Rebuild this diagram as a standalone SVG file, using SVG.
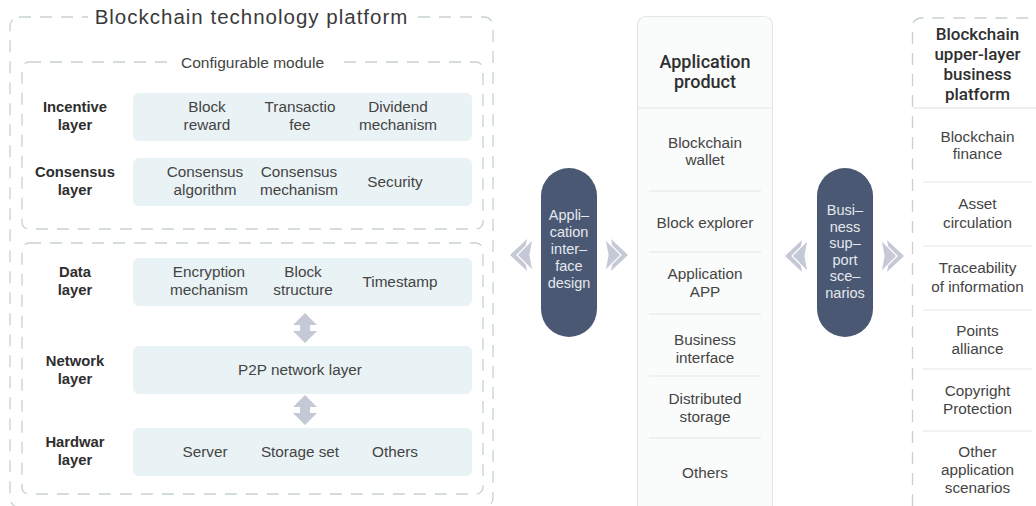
<svg xmlns="http://www.w3.org/2000/svg" width="1036" height="506" viewBox="0 0 1036 506">
<defs>
<style>
text{font-family:"Liberation Sans",Arial,sans-serif;fill:#3a3a3a;text-anchor:middle}
.t{font-size:15.3px;fill:#444}
.lb{font-size:14.8px;font-weight:bold;fill:#2e2e2e}
.hd{font-family:Roboto,"Liberation Sans",Arial,sans-serif;font-size:18px;font-weight:500;fill:#2f2f2f}
.hd2{font-family:Roboto,"Liberation Sans",Arial,sans-serif;font-size:17px;font-weight:500;fill:#2f2f2f}
.pt{font-size:14.5px;fill:#e4e8ee}
.dash{fill:none;stroke:#c6d1d1;stroke-width:1.3;stroke-dasharray:12 9}
.bar{fill:#e9f2f4}
.pill{fill:#4a5873}
.arr{fill:#c4c9d5}
.arr2{fill:#c4c9d5;stroke:#ffffff;stroke-width:1.2;stroke-linejoin:miter}
.sep{stroke:#e1e5e9;stroke-width:1.2}
</style>
</defs>
<rect width="1036" height="506" fill="#ffffff"/>

<g id="tech-platform">
<rect class="dash" x="10" y="17" width="483" height="490" rx="9"/>
<rect x="88" y="6" width="326" height="22" fill="#ffffff"/>
<text x="251.5" y="24" style="font-size:20.5px;letter-spacing:1px;fill:#3a3a3a">Blockchain technology platform</text>
</g>

<g id="configurable-module">
<rect class="dash" x="22" y="62" width="461" height="167" rx="7"/>
<rect x="170" y="52" width="166" height="20" fill="#ffffff"/>
<text x="252.5" y="67.5" style="font-size:15.5px;fill:#444">Configurable module</text>
</g>

<g id="base-module">
<rect class="dash" x="22" y="243" width="461" height="251" rx="7"/>
</g>

<g id="incentive-layer">
<text class="lb" x="75" y="112">Incentive</text>
<text class="lb" x="75" y="130">layer</text>
<rect class="bar" x="133" y="93" width="339" height="48" rx="6"/>
<text class="t" x="207" y="112">Block</text><text class="t" x="207" y="130">reward</text>
<text class="t" x="300" y="112">Transactio</text><text class="t" x="300" y="130">fee</text>
<text class="t" x="398" y="112">Dividend</text><text class="t" x="398" y="130">mechanism</text>
</g>

<g id="consensus-layer">
<text class="lb" x="75" y="177">Consensus</text>
<text class="lb" x="75" y="195">layer</text>
<rect class="bar" x="133" y="158" width="339" height="48" rx="6"/>
<text class="t" x="205" y="177">Consensus</text><text class="t" x="205" y="195">algorithm</text>
<text class="t" x="299" y="177">Consensus</text><text class="t" x="299" y="195">mechanism</text>
<text class="t" x="395" y="187">Security</text>
</g>

<g id="data-layer">
<text class="lb" x="75" y="277">Data</text>
<text class="lb" x="75" y="295">layer</text>
<rect class="bar" x="133" y="258" width="339" height="48" rx="6"/>
<text class="t" x="209" y="277">Encryption</text><text class="t" x="209" y="295">mechanism</text>
<text class="t" x="303" y="277">Block</text><text class="t" x="303" y="295">structure</text>
<text class="t" x="400" y="287">Timestamp</text>
</g>

<g id="network-layer">
<text class="lb" x="75" y="366">Network</text>
<text class="lb" x="75" y="384">layer</text>
<rect class="bar" x="133" y="346" width="339" height="48" rx="6"/>
<text class="t" x="300" y="375">P2P network layer</text>
</g>

<g id="hardware-layer">
<text class="lb" x="75" y="447">Hardwar</text>
<text class="lb" x="75" y="465">layer</text>
<rect class="bar" x="133" y="428" width="339" height="48" rx="6"/>
<text class="t" x="205" y="457">Server</text>
<text class="t" x="300" y="457">Storage set</text>
<text class="t" x="395" y="457">Others</text>
</g>

<g id="app-interface">
<rect class="pill" x="541" y="168" width="56" height="169" rx="28"/>
<text class="pt" x="569" y="219.5">Appli–</text>
<text class="pt" x="569" y="236.5">cation</text>
<text class="pt" x="569" y="253.5">inter–</text>
<text class="pt" x="569" y="270.5">face</text>
<text class="pt" x="569" y="287.5">design</text>
</g>

<g id="application-product">
<rect x="637.5" y="16.5" width="135" height="500" rx="8" fill="#fafbfb" stroke="#e3e7eb" stroke-width="1.2"/>
<line class="sep" x1="638" y1="108" x2="772" y2="108"/>
<text class="hd" x="705" y="68">Application</text>
<text class="hd" x="705" y="88">product</text>
<text class="t" x="705" y="148">Blockchain</text><text class="t" x="705" y="165">wallet</text>
<line class="sep" x1="649" y1="191" x2="761" y2="191"/>
<text class="t" x="705" y="228">Block explorer</text>
<line class="sep" x1="649" y1="252" x2="761" y2="252"/>
<text class="t" x="705" y="279">Application</text><text class="t" x="705" y="297">APP</text>
<line class="sep" x1="649" y1="314" x2="761" y2="314"/>
<text class="t" x="705" y="345">Business</text><text class="t" x="705" y="363">interface</text>
<line class="sep" x1="649" y1="376" x2="761" y2="376"/>
<text class="t" x="705" y="404">Distributed</text><text class="t" x="705" y="422">storage</text>
<line class="sep" x1="649" y1="438" x2="761" y2="438"/>
<text class="t" x="705" y="478">Others</text>
</g>

<g id="business-support">
<rect class="pill" x="817" y="168" width="56" height="169" rx="28"/>
<text class="pt" x="845" y="215">Busi–</text>
<text class="pt" x="845" y="231.5">ness</text>
<text class="pt" x="845" y="248">sup–</text>
<text class="pt" x="845" y="264.5">port</text>
<text class="pt" x="845" y="281">sce–</text>
<text class="pt" x="845" y="297.5">narios</text>
</g>

<g id="business-platform">
<path class="dash" d="M912.5 506 V28 Q912.5 18 922.5 18 H1040"/>
<line x1="913" y1="108" x2="1036" y2="108" stroke="#d9dde1" stroke-width="1.2"/>
<text class="hd2" x="977.5" y="40">Blockchain</text>
<text class="hd2" x="977.5" y="60">upper-layer</text>
<text class="hd2" x="977.5" y="80">business</text>
<text class="hd2" x="977.5" y="100">platform</text>
<text class="t" x="977.5" y="142">Blockchain</text><text class="t" x="977.5" y="159">finance</text>
<line class="sep" x1="923" y1="182" x2="1032" y2="182"/>
<text class="t" x="977.5" y="209">Asset</text><text class="t" x="977.5" y="228">circulation</text>
<line class="sep" x1="923" y1="246" x2="1032" y2="246"/>
<text class="t" x="977.5" y="273">Traceability</text><text class="t" x="977.5" y="292">of information</text>
<line class="sep" x1="923" y1="310" x2="1032" y2="310"/>
<text class="t" x="977.5" y="336">Points</text><text class="t" x="977.5" y="354">alliance</text>
<line class="sep" x1="923" y1="369" x2="1032" y2="369"/>
<text class="t" x="977.5" y="396">Copyright</text><text class="t" x="977.5" y="414">Protection</text>
<line class="sep" x1="923" y1="431" x2="1032" y2="431"/>
<text class="t" x="977.5" y="457">Other</text><text class="t" x="977.5" y="475">application</text><text class="t" x="977.5" y="493">scenarios</text>
</g>

<g id="connectors">
<polygon class="arr" points="305,313 317,325 310,325 310,331 317,331 305,343 293,331 300,331 300,325 293,325"/>
<polygon class="arr" points="305,395 317,407 310,407 310,413 317,413 305,425 293,413 300,413 300,407 293,407"/>
<!-- left of app interface pill: pointing left -->
<polygon class="arr" points="510,255 527,239 524,255 527,271"/>
<polygon class="arr2" points="517,255 533,239 530,255 533,271"/>
<!-- right of app interface pill: pointing right -->
<polygon class="arr" points="628,255 611,239 614,255 611,271"/>
<polygon class="arr2" points="621,255 605,239 608,255 605,271"/>
<!-- left of business pill -->
<polygon class="arr" points="785,256 802,240 799,256 802,272"/>
<polygon class="arr2" points="792,256 808,240 805,256 808,272"/>
<!-- right of business pill -->
<polygon class="arr" points="904,256 887,240 890,256 887,272"/>
<polygon class="arr2" points="897,256 881,240 884,256 881,272"/>
</g>
</svg>
